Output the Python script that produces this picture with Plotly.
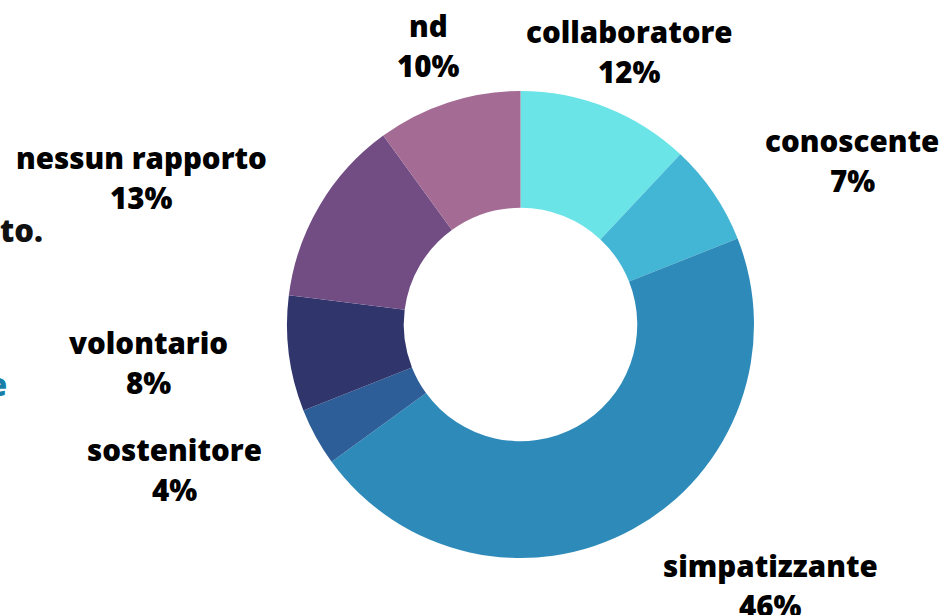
import plotly.graph_objects as go

categories = ["collaboratore", "conoscente", "simpatizzante", "sostenitore",
              "volontario", "nessun rapporto", "nd"]
values = [12, 7, 46, 4, 8, 13, 10]
colors = ["#6BE4E8", "#43B6D5", "#2E8BB9", "#2E5E98", "#30356C", "#714D84", "#A46C94"]

# label positions in pixels (x centre, y of first line)
label_pos = {
    "collaboratore": (629, 31),
    "conoscente": (852, 140),
    "simpatizzante": (770, 565),
    "sostenitore": (174, 449),
    "volontario": (148, 342),
    "nessun rapporto": (141, 157),
    "nd": (428, 25),
}

W, H = 942, 615
cx, cy, r = 520.5, 324.5, 233.5

fig = go.Figure(go.Pie(
    labels=categories, values=values, sort=False, direction="clockwise",
    rotation=0, hole=0.5, textinfo="none", hoverinfo="label+percent",
    marker=dict(colors=colors, line=dict(width=0)),
    domain=dict(x=[(cx - r) / W, (cx + r) / W],
                y=[(H - cy - r) / H, (H - cy + r) / H]),
    showlegend=False,
))

font = dict(family="Open Sans", size=29.5, color="#000000", weight=800)
total = sum(values)
for cat, v in zip(categories, values):
    x, y = label_pos[cat]
    pct = f"{round(100 * v / total)}%"
    for i, txt in enumerate([cat, pct]):
        fig.add_annotation(x=x / W, y=1 - (y + 40 * i) / H, xref="paper", yref="paper",
                           text=txt, showarrow=False, xanchor="center", yanchor="middle",
                           font=font)

# fragments of the surrounding slide text
fig.add_annotation(x=45 / W, y=1 - 230 / H, xref="paper", yref="paper", text="to.",
                   showarrow=False, xanchor="right", yanchor="middle",
                   font=dict(family="Open Sans", size=31, color="#111111", weight=800))
fig.add_annotation(x=9 / W, y=1 - 384 / H, xref="paper", yref="paper", text="e",
                   showarrow=False, xanchor="right", yanchor="middle",
                   font=dict(family="Open Sans", size=31, color="#1A7FA8", weight=800))

fig.update_layout(width=W, height=H, margin=dict(l=0, r=0, t=0, b=0),
                  paper_bgcolor="white", plot_bgcolor="white")
fig.write_html("out.html", config={"displayModeBar": False},
               post_script="document.body.style.margin='0';document.body.style.overflow='hidden';")
